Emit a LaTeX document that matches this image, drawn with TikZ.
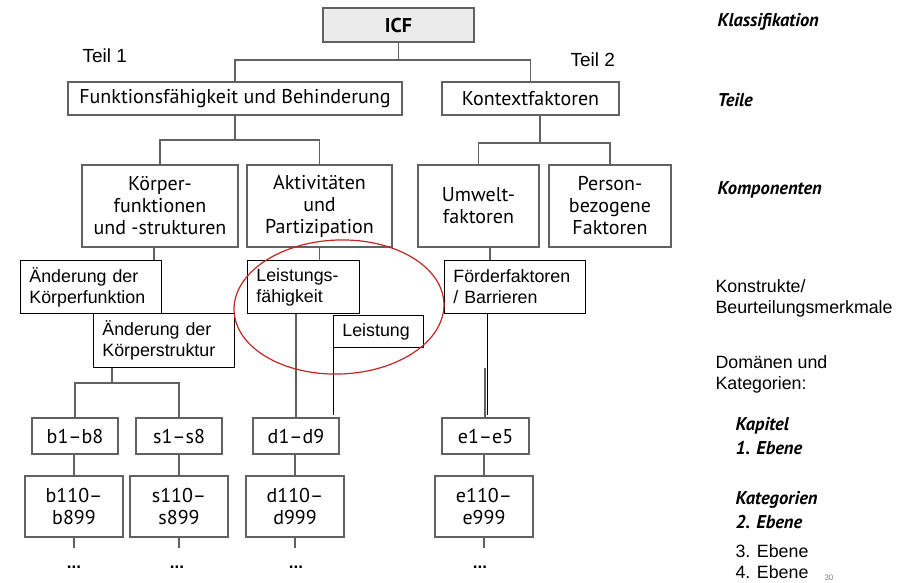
\documentclass[tikz,border=0pt]{standalone}
\usepackage{fontspec}
\setmainfont{Liberation Sans}
\newfontfamily\bookfont{PT Sans}
\usetikzlibrary{calc}

\definecolor{bookline}{gray}{0.38}
\definecolor{icffill}{gray}{0.92}
\definecolor{ringred}{RGB}{200,35,35}

\begin{document}
\begin{tikzpicture}[x=1pt,y=-1pt,
    bbox/.style={draw=bookline, line width=1.1pt, inner sep=0pt, align=center,
      font=\bookfont\fontsize{20}{22}\selectfont},
    sbox/.style={draw=black, line width=0.9pt, inner xsep=9pt, inner ysep=0pt,
      align=left, anchor=north west, font=\fontsize{17.8}{21}\selectfont},
    bline/.style={draw=bookline, line width=1.1pt},
    sline/.style={draw=black, line width=0.9pt},
    tag/.style={anchor=west, align=left,
      font=\bookfont\bfseries\itshape\fontsize{18.5}{24}\selectfont},
    note/.style={anchor=west, align=left, font=\fontsize{17.8}{21}\selectfont}]
  \useasboundingbox (0,0) rectangle (914,582);

  % book figure
  \node[bbox, fill=icffill, minimum width=151, minimum height=34] (icf) at (398.5,25) {\bfseries ICF};
  \node[bbox, minimum width=334, minimum height=33] (fb) at (235,98.5) {Funktionsfähigkeit und Behinderung};
  \node[bbox, minimum width=177, minimum height=33] (kf) at (530.5,98.5) {Kontextfaktoren};
  \node[bbox, minimum width=156, minimum height=82] (koe) at (160,206) {Körper-\\funktionen\\und -strukturen};
  \node[bbox, minimum width=145, minimum height=82] (akt) at (319.5,206) {Aktivitäten\\und\\Partizipation};
  \node[bbox, minimum width=121, minimum height=82] (umw) at (478.5,206) {Umwelt-\\faktoren};
  \node[bbox, minimum width=122, minimum height=82] (pers) at (610,206) {Person-\\bezogene\\Faktoren};

  \node[bbox, minimum width=86, minimum height=36] (b1) at (75,436) {b1–b8};
  \node[bbox, minimum width=86, minimum height=36] (s1) at (179,436) {s1–s8};
  \node[bbox, minimum width=86, minimum height=36] (d1) at (296,436) {d1–d9};
  \node[bbox, minimum width=87, minimum height=36] (e1) at (485.5,436) {e1–e5};
  \node[bbox, minimum width=98, minimum height=61] (b2) at (74,506.5) {b110–\\b899};
  \node[bbox, minimum width=98, minimum height=61] (s2) at (179,506.5) {s110–\\s899};
  \node[bbox, minimum width=98, minimum height=61] (d2) at (295,506.5) {d110–\\d999};
  \node[bbox, minimum width=98, minimum height=61] (e2) at (484,506.5) {e110–\\e999};

  \draw[bline] (icf.south) -- (icf.south |- 0,60) -| (fb.north)
    (icf.south |- 0,60) -| (kf.north);
  \draw[bline] (fb.south) -- (fb.south |- 0,140) -| (koe.north)
    (fb.south |- 0,140) -| (akt.north);
  \draw[bline] ([xshift=9.5]kf.south) -- ([xshift=9.5]kf.south |- 0,143) -| (umw.north)
    ([xshift=9.5]kf.south |- 0,143) -| (pers.north);
  \draw[bline] (b1.south -| b2.north) -- (b2.north) (s1) -- (s2) (d1.south -| d2.north) -- (d2.north)
    (e1.south -| e2.north) -- (e2.north);
  \foreach \n in {b2,s2,d2,e2}
    \draw[bline] (\n.south) -- ++(0,10);

  % slide additions
  \node[sbox, text width=123, minimum height=53] (kfkt) at (20,260) {Änderung der\\Körperfunktion};
  \node[sbox, text width=123, minimum height=54] (kstr) at (93,313) {Änderung der\\Körperstruktur};
  \node[sbox, text width=94, minimum height=53] (lf) at (247,260) {Leistungs-\\fähigkeit};
  \node[sbox, text width=72, minimum height=32, inner xsep=9pt] (leist) at (333,315) {Leistung};
  \node[sbox, text width=123, minimum height=53] (ff) at (444,260) {Förderfaktoren\\/ Barrieren};

  \draw[bline] (koe.south -| 154,0) -- (kfkt.north -| 154,0);
  \draw[bline] (akt.south) -- (lf.north -| akt.south);
  \draw[bline] (umw.south -| 490,0) -- (ff.north -| 490,0);
  \draw[bline] (kstr.south -| 112,0) -- (112,383) -| (b1.north)
    (112,383) -| (s1.north);
  \draw[bline] (lf.south -| d1.north) -- (d1.north);
  \draw[bline] (485,368) -- (e1.north -| 485,0);
  \draw[sline] (leist.south west) -- (leist.south west |- 0,415);
  \draw[sline] (ff.south -| 487,0) -- (487,415);

  \node[anchor=west, font=\fontsize{19}{22}\selectfont] (t1) at (79,56) {Teil 1};
  \node[anchor=west, font=\fontsize{19}{22}\selectfont] (t2) at (567,60) {Teil 2};

  \foreach \x/\nm in {74/da,177/db,296/dc,480/dd}
    \node[font=\bfseries\fontsize{17}{18}\selectfont] (\nm) at (\x,567) {...};

  % right column
  \node[tag] (klass) at (714,22) {Klassifikation};
  \node[tag] (teile) at (714,100) {Teile};
  \node[tag] (komp) at (714,190) {Komponenten};
  \node[note] (konstr) at (712,298.5) {Konstrukte/\\Beurteilungsmerkmale};
  \node[note] (dom) at (712,374.5) {Domänen und\\Kategorien:};
  \node[tag] (kap) at (732,436) {Kapitel\\1. Ebene};
  \node[tag] (kat) at (732,510) {Kategorien\\2. Ebene};
  \node[note] (eb3) at (732,551) {3. Ebene};
  \node[note] (eb4) at (732,572) {4. Ebene};
  \node[anchor=west, text=gray, font=\fontsize{8}{9}\selectfont] (pg) at (821,578) {30};

  \draw[ringred, line width=1.2pt, rotate around={2:(339,307)}] (339,307) ellipse [x radius=105, y radius=67];
\end{tikzpicture}
\end{document}
